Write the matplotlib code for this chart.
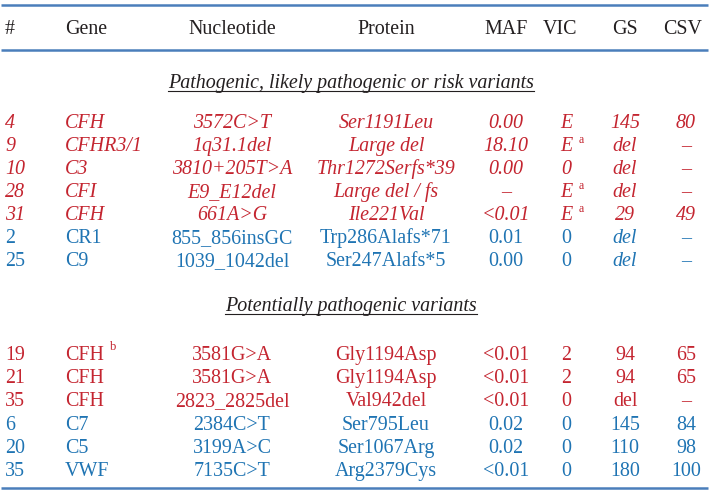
import matplotlib
matplotlib.use("Agg")
import matplotlib.pyplot as plt

plt.rcParams['font.family'] = ['Liberation Serif', 'DejaVu Serif']

red = '#c42530'
blue = '#1f74b3'
rule = '#4a7ebb'
ink = '#231f20'

headers = ['#', 'Gene', 'Nucleotide', 'Protein', 'MAF', 'VIC', 'GS', 'CSV']
sections = ['Pathogenic, likely pathogenic or risk variants',
            'Potentially pathogenic variants']

# section 1
num_1 = ['4', '9', '10', '28', '31', '2', '25']
gene_1 = ['CFH', 'CFHR3/1', 'C3', 'CFI', 'CFH', 'CR1', 'C9']
gene_sup_1 = ['', '', '', '', '', '', '']
nuc_1 = ['3572C>T', '1q31.1del', '3810+205T>A', 'E9_E12del', '661A>G',
         '855_856insGC', '1039_1042del']
prot_1 = ['Ser1191Leu', 'Large del', 'Thr1272Serfs*39', 'Large del / fs',
          'Ile221Val', 'Trp286Alafs*71', 'Ser247Alafs*5']
maf_1 = ['0.00', '18.10', '0.00', '–', '<0.01', '0.01', '0.00']
vic_1 = ['E', 'E', '0', 'E', 'E', '0', '0']
vic_sup_1 = ['', 'a', '', 'a', 'a', '', '']
gs_1 = ['145', 'del', 'del', 'del', '29', 'del', 'del']
csv_1 = ['80', '–', '–', '–', '49', '–', '–']
group_1 = ['red', 'red', 'red', 'red', 'red', 'blue', 'blue']

# section 2
num_2 = ['19', '21', '35', '6', '20', '35']
gene_2 = ['CFH', 'CFH', 'CFH', 'C7', 'C5', 'VWF']
gene_sup_2 = ['b', '', '', '', '', '']
nuc_2 = ['3581G>A', '3581G>A', '2823_2825del', '2384C>T', '3199A>C', '7135C>T']
prot_2 = ['Gly1194Asp', 'Gly1194Asp', 'Val942del', 'Ser795Leu', 'Ser1067Arg',
          'Arg2379Cys']
maf_2 = ['<0.01', '<0.01', '<0.01', '0.02', '0.02', '<0.01']
vic_2 = ['2', '2', '0', '0', '0', '0']
vic_sup_2 = ['', '', '', '', '', '']
gs_2 = ['94', '94', 'del', '145', '110', '180']
csv_2 = ['65', '65', '–', '84', '98', '100']
group_2 = ['red', 'red', 'red', 'blue', 'blue', 'blue']

fs = 14.4
col_x = [5, 65, 232, 386, 506, 566, 625, 686]
head_x = [5, 65, 232, 386, 506, 560, 625, 683]
col_ha = ['left', 'left', 'center', 'center', 'center', 'center', 'center', 'center']

fig = plt.figure(figsize=(7.12, 4.90), dpi=100)
ax = fig.add_axes([0, 0, 1, 1])
ax.set_xlim(0, 712)
ax.set_ylim(490, 0)
ax.axis('off')

for y in [5, 50, 488]:
    ax.plot([1, 708], [y, y], color=rule, lw=1.8, solid_capstyle='butt')

for h, x, ha in zip(headers, head_x, col_ha):
    ax.text(x, 34, h, ha=ha, va='baseline', fontsize=fs, color=ink)

heads = []
for s, y in zip(sections, [88, 311]):
    t = ax.text(351, y, s, ha='center', va='baseline', fontsize=fs,
                style='italic', color=ink)
    heads.append((t, y))


def draw_rows(cols, gene_sup, vic_sup, group, y0, dy, italic_rows):
    for i in range(len(group)):
        y = y0 + i * dy
        c = red if group[i] == 'red' else blue
        for j, (x, ha) in enumerate(zip(col_x, col_ha)):
            val = cols[j][i]
            it = italic_rows or (j == 6 and val == 'del' and group[i] == 'blue' and y0 < 300)
            if italic_rows and group[i] == 'blue':
                it = (j == 6 and val == 'del')
            ax.text(x, y, val, ha=ha, va='baseline', fontsize=fs, color=c,
                    style='italic' if it else 'normal')
        if gene_sup[i]:
            ax.text(110, y - 10, gene_sup[i], ha='left', va='baseline',
                    fontsize=9, color=c)
        if vic_sup[i]:
            ax.text(579, y - 8, vic_sup[i], ha='left', va='baseline',
                    fontsize=8.5, color=c)


draw_rows([num_1, gene_1, nuc_1, prot_1, maf_1, vic_1, gs_1, csv_1],
          gene_sup_1, vic_sup_1, group_1, 128, 23, True)
draw_rows([num_2, gene_2, nuc_2, prot_2, maf_2, vic_2, gs_2, csv_2],
          gene_sup_2, vic_sup_2, group_2, 360, 23.2, False)

fig.canvas.draw()
inv = ax.transData.inverted()
r = fig.canvas.get_renderer()
for t, y in heads:
    bb = t.get_window_extent(renderer=r)
    x0 = inv.transform((bb.x0, bb.y0))[0]
    x1 = inv.transform((bb.x1, bb.y0))[0]
    ax.plot([x0, x1], [y + 3, y + 3], color=ink, lw=0.8)

fig.savefig('out.png', dpi=100)
